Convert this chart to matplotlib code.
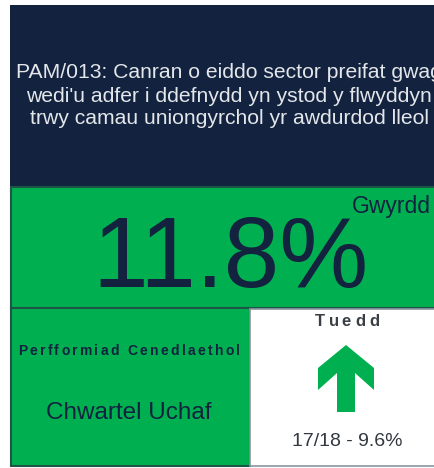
import matplotlib
matplotlib.use('Agg')
import matplotlib.pyplot as plt
from matplotlib.patches import Rectangle, Polygon
from matplotlib.font_manager import FontProperties

# data
title_lines = ["PAM/013: Canran o eiddo sector preifat gwag",
               "wedi'u adfer i ddefnydd yn ystod y flwyddyn",
               "trwy camau uniongyrchol yr awdurdod lleol"]
value = "11.8%"
rating = "Gwyrdd"
national_label = "Perfformiad Cenedlaethol"
national_value = "Chwartel Uchaf"
trend_label = "Tuedd"
previous = "17/18 - 9.6%"

navy = '#12223f'
green = '#00b050'
edge = '#1d5646'
font = 'Liberation Sans'

W, H = 434, 468
fig = plt.figure(figsize=(W / 100, H / 100), dpi=100)
ax = fig.add_axes([0, 0, 1, 1])
ax.set_xlim(0, W)
ax.set_ylim(H, 0)
ax.axis('off')
renderer = fig.canvas.get_renderer()


def spaced_text(x, y, s, size, track, **kw):
    # texte centré avec espacement des lettres (px)
    prop = FontProperties(family=font, size=size, weight=kw.get('weight', 'normal'))

    def width(t):
        return renderer.get_text_width_height_descent(t, prop, ismath=False)[0]
    bar = width('|')
    pos = [width(s[:i] + '|') - bar for i in range(len(s))]
    total = width(s) + track * (len(s) - 1)
    x0 = x - total / 2
    for i, ch in enumerate(s):
        ax.text(x0 + pos[i] + track * i, y, ch, fontproperties=prop, ha='left', va='center',
                color=kw.get('color', navy))


# boxes
ax.add_patch(Rectangle((10, 5), 440, 182, facecolor=navy, edgecolor='none'))
ax.add_patch(Rectangle((10.5, 187), 440, 121, facecolor=green, edgecolor=edge, lw=1.5))
ax.add_patch(Rectangle((10.5, 308), 239, 158, facecolor=green, edgecolor=edge, lw=1.5))
ax.add_patch(Rectangle((249.5, 308.5), 200, 157.5, facecolor='white', edgecolor='#8a96a3', lw=1.2))

# titre
for i, line in enumerate(title_lines):
    ax.text(229, 73 + i * 23, line, color='#e4e7ea', fontsize=15.2, family=font,
            ha='center', va='center')

ax.text(231, 287, value, color=navy, fontsize=72, family=font, ha='center', va='baseline')
ax.text(391, 213, rating, color=navy, fontsize=16.5, family=font, ha='center', va='baseline')

spaced_text(129, 351, national_label, 10, 2.3, weight='bold')
ax.text(129, 413, national_value, color=navy, fontsize=17.5, family=font, ha='center', va='center')

spaced_text(347, 322, trend_label, 12, 4.0, weight='bold', color='#3a3f46')
ax.text(347, 441, previous, color='#333840', fontsize=14, family=font, ha='center', va='center')

# flèche
cx, top = 346, 345
arrow = [(0, 0), (28, 23), (28, 45), (9, 28), (9, 67), (-9, 67), (-9, 28), (-28, 45), (-28, 23)]
ax.add_patch(Polygon([(cx + dx, top + dy) for dx, dy in arrow], closed=True,
                     facecolor=green, edgecolor='none'))

fig.savefig('out.png', dpi=100)
